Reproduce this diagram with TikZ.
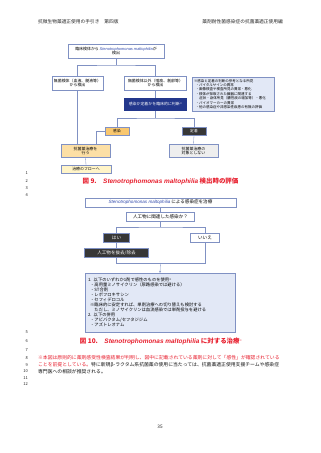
\documentclass[tikz,border=0pt]{standalone}
\usepackage{fontspec}
\setmainfont{Noto Sans CJK JP}
\newfontfamily\lat{Liberation Sans}
\usetikzlibrary{arrows.meta}
\definecolor{bord}{RGB}{128,145,195}
\definecolor{navy}{RGB}{35,55,140}
\definecolor{latblue}{RGB}{45,70,170}
\definecolor{notefill}{RGB}{226,232,246}
\definecolor{orangeA}{RGB}{249,199,110}
\definecolor{orangeB}{RGB}{252,223,165}
\definecolor{yellowA}{RGB}{255,244,200}
\definecolor{darkg}{RGB}{55,55,55}
\definecolor{lightg}{RGB}{238,238,238}
\definecolor{capred}{RGB}{232,30,45}
\newcommand\fs[2]{\fontsize{#1pt}{#2pt}\selectfont}
\newcommand\smname{{\lat\itshape Stenotrophomonas maltophilia}}
\newcommand\kome{\raisebox{0.55ex}{\fs{4.5}{5}※}}
\begin{document}
\begin{tikzpicture}[x=1.86pt,y=-1.86pt,
  bx/.style={draw=bord, line width=0.6pt, inner sep=0pt, align=center, text=black},
  sz/.style 2 args={minimum width=#1*1.86pt, minimum height=#2*1.86pt},
  con/.style={draw=bord, line width=0.6pt},
  lno/.style={anchor=east, inner sep=0pt, font=\fs{7.5}{8}, text=black!85},
  hdr/.style={inner sep=0pt, font=\fs{8.8}{10}, text=black!85},
  captxt/.style={inner sep=0pt, font=\bfseries\fs{12}{13}, text=capred},
  fn/.style={anchor=west, inner sep=0pt, font=\fs{9}{10}, text=black!92}]
\path[use as bounding box, fill=white] (0,0) rectangle (320,453);

% header
\node[hdr, anchor=west] (h1) at (38,22) {抗微生物薬適正使用の手引き　第四版};
\node[hdr, anchor=east] (h2) at (283,22) {薬剤耐性菌感染症の抗菌薬適正使用編};

% ---------- Figure 9 ----------
\node[bx, sz={96}{14}, font=\fs{7.3}{8.6}] (top) at (116,51) {臨床検体から {\color{latblue}\smname}が\\検出};
\node[bx, sz={51}{14}, font=\fs{7.3}{8.6}] (musai) at (77.5,83) {無菌検体（血液、髄液等）\\から検出};
\node[bx, sz={62}{14}, font=\fs{7.3}{8.6}] (musaigai) at (155.5,83) {無菌検体以外（喀痰、創部等）\\から検出};
\node[bx, sz={62}{12}, fill=navy, draw=navy, text=white, font=\fs{7.3}{8.6}] (judge) at (155.5,104.5) {感染か定着かを臨床的に判断\kome};
\node[bx, fill=notefill, minimum height=34*1.86pt, inner xsep=2*1.86pt, text width=78*1.86pt, align=left, font=\fs{6.5}{8.1}] (note) at (233,94)
 {※感染と定着の判断の参考となる所見\\
  \hspace*{3pt}・バイタルサインの異常\\
  \hspace*{3pt}・画像検査や検査所見の異常・悪化\\
  \hspace*{3pt}・検体が採取された臓器に関連する\\
  \hspace*{10pt}症状・身体所見（膿性痰の増加等）・悪化\\
  \hspace*{3pt}・バイオマーカーの異常\\
  \hspace*{3pt}・他の感染症や非感染性疾患の有無の評価};
\node[bx, sz={24}{8}, fill=orangeA, font=\fs{7}{8}] (kansen) at (117,131) {感染};
\node[bx, sz={24}{8}, fill=darkg, text=white, font=\fs{7}{8}] (teichaku) at (194,131) {定着};
\node[bx, sz={49}{13}, fill=orangeB, font=\fs{7.3}{8.6}] (treat) at (85.5,151) {抗菌薬治療を\\行う};
\node[bx, sz={49}{13}, fill=lightg, font=\fs{7.3}{8.6}] (notreat) at (193.5,151) {抗菌薬治療の\\対象としない};
\node[bx, sz={50}{8}, fill=yellowA, font=\fs{7.3}{8.6}] (flow) at (86,169) {治療のフローへ};

\coordinate (j1) at (116,65);
\coordinate (j2) at (155.5,118);
\coordinate (k1) at (96,144.5);
\draw[con] (top.south) -- (j1);
\draw[con] (musai.north) |- (j1) -| (musaigai.north);
\draw[con] (musai.south) -- (musai.south |- treat.north);
\draw[con] (musaigai.south) -- (judge.north);
\draw[con] (judge.south) -- (j2);
\draw[con] (kansen.north) |- (j2) -| (teichaku.north);
\draw[con] (kansen.west) -| (k1);
\draw[con] (teichaku.south) -- (notreat.north);
\draw[con] (treat.south) -- (flow.north);

\node[captxt] (cap9) at (160.5,181) {図 9.\quad\smname{} 検出時の評価};

% ---------- Figure 10 ----------
\node[bx, sz={151}{9}, font=\fs{8.5}{9.5}] (t10) at (160.5,202.5) {{\color{latblue}\smname} による感染症を治療};
\node[bx, sz={68}{9}, font=\fs{8.5}{9.5}] (q) at (160.5,216.5) {人工物に関連した感染か？};
\node[bx, sz={26}{9}, fill=darkg, text=white, font=\fs{8.5}{9.5}] (yes) at (116.5,237.5) {はい};
\node[bx, sz={29}{9}, font=\fs{8.5}{9.5}] (no) at (205,237.5) {いいえ};
\node[bx, sz={64}{9}, fill=darkg, text=white, font=\fs{8.5}{9.5}] (remove) at (116.5,252.5) {人工物を抜去/除去};
\node[bx, fill=notefill, minimum height=59*1.86pt, inner xsep=3*1.86pt, text width=144*1.86pt, align=left, font=\fs{8}{9.4}] (list) at (160,302.5)
 {1. 以下のいずれか1剤で感性のものを使用\kome\\
  \hspace*{4pt}・高用量ミノサイクリン（尿路感染では避ける）\\
  \hspace*{4pt}・ST合剤\\
  \hspace*{4pt}・レボフロキサシン\\
  \hspace*{4pt}・セフィデロコル\\
  \hspace*{4pt}※臨床的に安定すれば、単剤治療への切り替えも検討する\\
  \hspace*{12pt}ただし、ミノサイクリンは血流感染では単剤投与を避ける\\
  2. 以下の併用\\
  \hspace*{4pt}・アビバクタム/セフタジジム\\
  \hspace*{4pt}・アズトレオナム};

\coordinate (j3) at (160.5,227);
\coordinate (j5) at (160.5,263);
\draw[con] (t10.south) -- (q.north);
\draw[con] (q.south) -- (j3);
\draw[con] (yes.north) |- (j3) -| (no.north);
\draw[con] (yes.south) -- (remove.north);
\draw[con] (remove.south) |- (j5);
\draw[con] (no.south) |- (j5);
\draw[con, -{Stealth[length=3.5pt,width=3.5pt]}] (j5) -- (list.north);

\node[captxt] (cap10) at (161,341) {図 10.\quad\smname{} に対する治療\kome};

% footnote
\node[fn] (f1) at (38,358) {\color{capred}※本図は原則的に薬剤感受性検査結果が判明し、図中に記載されている薬剤に対して「感性」が確認されている};
\node[fn] (f2) at (38,365) {{\color{capred}ことを前提としている。}特に新規β-ラクタム系抗菌薬の使用に当たっては、抗菌薬適正使用支援チームや感染症};
\node[fn] (f3) at (38,371.5) {専門医への相談が推奨される。};

% line numbers
\node[lno] (n1) at (28,173) {1};
\node[lno] (n2) at (28,181) {2};
\node[lno] (n3) at (28,188) {3};
\node[lno] (n4) at (28,195) {4};
\node[lno] (n5) at (28,332) {5};
\node[lno] (n6) at (28,341) {6};
\node[lno] (n7) at (28,350) {7};
\node[lno] (n8) at (28,358) {8};
\node[lno] (n9) at (28,365) {9};
\node[lno] (n10) at (28,371.5) {10};
\node[lno] (n11) at (28,378) {11};
\node[lno] (n12) at (28,384.5) {12};

\node[hdr] (pg) at (160,427) {35};
\end{tikzpicture}
\end{document}
